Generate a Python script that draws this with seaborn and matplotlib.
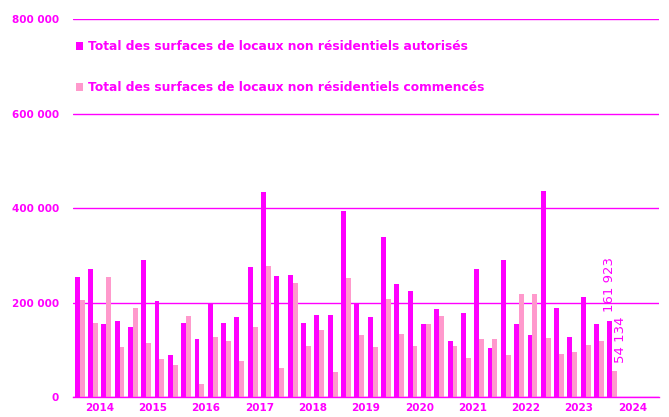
import matplotlib
matplotlib.use("Agg")
import matplotlib.pyplot as plt
import seaborn as sns
import pandas as pd
import numpy as np
from matplotlib.ticker import FuncFormatter, FixedLocator

years = ["2014", "2015", "2016", "2017", "2018", "2019", "2020", "2021", "2022", "2023", "2024"]
quarters = [f"{y}T{q}" for y in years[:-1] for q in range(1, 5)] + ["2024T1"]

autorises = [255000, 270000, 153500, 161300,
             148000, 289400, 204200, 88700,
             156300, 123200, 198600, 157700,
             169700, 274600, 433000, 255600,
             257700, 156300, 174600, 174600,
             392900, 197200, 169000, 339400,
             238700, 223900, 154200, 185900,
             118300, 177400, 270400, 103500,
             290800, 155600, 131000, 435200,
             188700, 126800, 211300, 154200,
             161923]
commences = [205000, 157000, 253500, 105600,
             188000, 114000, 79600, 66900,
             172500, 28200, 127500, 118300,
             76000, 147900, 277400, 60600,
             242200, 108400, 142200, 53500,
             252100, 131700, 104900, 207700,
             133100, 107700, 155600, 172500,
             108400, 83100, 122500, 122500,
             88000, 219000, 218300, 124600,
             90800, 94300, 109800, 119000,
             54134]

s1 = "Total des surfaces de locaux non résidentiels autorisés"
s2 = "Total des surfaces de locaux non résidentiels commencés"
df = pd.DataFrame({
    "trimestre": quarters * 2,
    "valeur": autorises + commences,
    "serie": [s1] * len(quarters) + [s2] * len(quarters),
})

MAG = "#FF00FF"
PINK = "#FF99CC"

sns.set_style("white")
plt.rcParams["font.family"] = ["DejaVu Sans"]

fig = plt.figure(figsize=(6.69, 4.17), dpi=100)
ax = fig.add_axes([0.109, 0.048, 0.876, 0.906])

sns.barplot(data=df, x="trimestre", y="valeur", hue="serie", order=quarters,
            palette=[MAG, PINK], width=0.74, saturation=1, ax=ax, legend=True,
            linewidth=0, edgecolor="none")

ax.set_xlim(-0.5, 43.5)
ax.set_ylim(0, 800000)
ax.set_yticks(np.arange(0, 800001, 200000))
ax.yaxis.set_major_formatter(FuncFormatter(lambda v, p: f"{int(v):,}".replace(",", " ")))
ax.grid(axis="y", color=MAG, linewidth=1)
ax.set_axisbelow(True)
for sp in ["top", "right", "left"]:
    ax.spines[sp].set_visible(False)
ax.spines["bottom"].set_color(MAG)
ax.spines["bottom"].set_linewidth(1)

ax.xaxis.set_major_locator(FixedLocator([-0.5 + 4 * i for i in range(12)]))
ax.xaxis.set_minor_locator(FixedLocator([1.5 + 4 * i for i in range(11)]))
ax.set_xticklabels([""] * 12)
ax.set_xticklabels(years, minor=True)
ax.tick_params(axis="x", which="major", length=4, color=MAG, width=1, direction="out")
ax.tick_params(axis="x", which="minor", length=0, pad=4)
ax.tick_params(axis="x", which="both", labelcolor=MAG, labelsize=7.5)
ax.tick_params(axis="y", length=0, labelcolor=MAG, labelsize=7.5, pad=10)
for lab in ax.get_xticklabels(minor=True) + ax.get_yticklabels():
    lab.set_fontweight("bold")
ax.set_xlabel("")
ax.set_ylabel("")

# labels on 2024 bars
offsets = [(0, 6), (4, 6)]
for cont, vals, off in zip(ax.containers, [autorises, commences], offsets):
    labs = [""] * (len(vals) - 1) + [f"{vals[-1]:,}".replace(",", " ")]
    anns = ax.bar_label(cont, labels=labs, rotation=90, padding=6, color=MAG, fontsize=9.5)
    for a in anns:
        a.xyann = off

leg = ax.legend(loc="upper left", bbox_to_anchor=(-0.003, 0.957), frameon=False,
                fontsize=8.8, handlelength=0.6, handleheight=0.6, handletextpad=0.35,
                labelspacing=2.3, borderaxespad=0)
for t in leg.get_texts():
    t.set_color(MAG)
    t.set_fontweight("bold")

fig.savefig("out.png", dpi=100)
